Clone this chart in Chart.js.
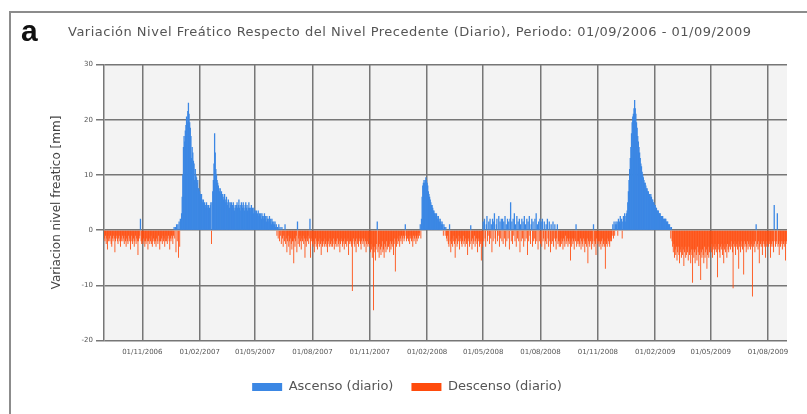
<!DOCTYPE html>
<html>
<head>
<meta charset="utf-8">
<script src="https://cdn.jsdelivr.net/npm/chart.js@4.4.1/dist/chart.umd.min.js"></script>
<style>
  html, body { margin: 0; padding: 0; background: #fff; }
  #wrap { position: relative; width: 807px; height: 414px; overflow: hidden; }
  #frame { position: absolute; left: 9px; top: 11px; width: 830px; height: 440px;
           border: 2px solid #8c8c8c; box-sizing: border-box; }
  #panel { position: absolute; left: 21px; top: 14px; font: bold 30px "Liberation Sans", Arial, sans-serif;
           color: #111; line-height: 34px; }
  #title { position: absolute; left: 68px; top: 24px; font: 13px "DejaVu Sans", sans-serif;
           letter-spacing: 0.5px; color: #555; white-space: nowrap; line-height: 16px; }
  canvas { position: absolute; left: 0; top: 0; }
</style>
</head>
<body>
<div id="wrap">
  <div id="frame"></div>
  <canvas id="chart" width="807" height="414"></canvas>
  <div id="panel">a</div>
  <div id="title">Variación Nivel Freático Respecto del Nivel Precedente (Diario), Periodo: 01/09/2006 - 01/09/2009</div>
</div>
<script>
// Daily change of the water table relative to the previous day [mm].
// One inner array per calendar month, starting September 2006.
const startYear = 2006, startMonth = 8; // September (0-based)

const var2006 = [
  /* sep */ [-1.5,-2,-1,-2.5,-1.5,-3.5,-1,-2,-1.5,-2,-1,-2.5,-3,-1.5,-2,-1,-1.5,-4,-2,-1.5,-1,-2,-2.5,-1.5,-1,-2,-3,-1.5,-2,-1],
  /* oct */ [-2,-1.5,-2.5,-1,-2,-3,-1.5,-2,-2.5,-1,-2,-1.5,-3.5,-2,-1,-2.5,-2,-1.5,-3,-2,-1,-2.5,-1.5,-2,-4.5,-2,-1.5,-1,2,-2,-2.5],
  /* nov */ [-2,-2.5,-1.5,-2,-3,-2,-2.5,-1.5,-2,-3.5,-2,-1.5,-2.5,-2,-1,-2.5,-3,-2,-1.5,-2,-2.5,-2,-3,-1.5,-2,-2.5,-1,-2,-3.5,-2],
  /* dic */ [-2,-1.5,-2.5,-1,-2,-1.5,-3,-2,-1,-2,-2.5,-1.5,-1,-2,-3.5,-1.5,-2,-1,-1.5,-2.5,-1,0.5,-1.5,0.5,-4,1,-2,1,-5,1.5,-3]
];
const var2007a = [
  /* ene */ [2,1.5,3,6,10,15,17,16,18,19,20.5,19.5,21.5,23,21,19.5,18.5,17,13,15,14,12.5,12,9,11,10,9.5,8.5,9,7.5,7.5],
  /* feb */ [7,6.5,6,6.5,5.5,5,5.5,4.5,5,4.5,4,5,4.5,4,4.5,3.5,4,4.5,5,-2.5,5,7,9,12,17.5,14,11,10],
  /* mar */ [9,8.5,8,7.5,7,7.5,6.5,7,6,6.5,5.5,6,6.5,5,5.5,6,5,4.5,5.5,5,4,5,4.5,5,4,4.5,5,4,3.5,4.5,4],
  /* abr */ [4.5,5,4,4.5,5.5,4,4.5,3.5,5,4.5,4,5,4,3.5,4.5,5,4,4.5,3.5,4,5,4,3.5,4,4.5,3.5,4,3,4,3.5],
  /* may */ [3.5,3,3.5,2.5,3,3.5,2.5,3,2.5,3,2,3,2.5,2,2.5,3,2,2.5,1.5,2.5,2,2,1.5,2.5,1.5,2,1,2,1.5,1,1.5],
  /* jun */ [1,1.5,0.5,1,-1,0.5,-1.5,1,-2,0.5,-1,-2.5,0.5,-1.5,-3,-1,-2,1,-2.5,-1.5,-4,-2,-1,-3,-2,-4.5,-1.5,-2.5,-3.5,-2]
];
const var2007b = [
  /* jul */ [-2,-6,-1.5,-3,-2,-1,-4,1.5,-2.5,-1.5,-3,-1,-2,-3.5,-1.5,-2,-1,-2.5,-1.5,-5,-2,-3,-1.5,-2,-1,-2.5,-1.5,2,-5,-2,-1.5],
  /* ago */ [-2.5,-3,-2,-4,-2.5,-1.5,-3,-2,-3.5,-2.5,-2,-3,-1.5,-2.5,-4.5,-2,-3,-2.5,-2,-3,-1.5,-2.5,-3,-2,-4,-2.5,-2,-3,-1.5,-2.5,-3],
  /* sep */ [-2,-3,-2.5,-1.5,-3.5,-2,-2.5,-3,-2,-1.5,-3,-2.5,-2,-4,-2.5,-1.5,-2,-3,-2.5,-2,-3.5,-1.5,-2.5,-2,-3,-2,-1.5,-4.5,-2.5,-2],
  /* oct */ [-2,-2.5,-3,-11,-2,-1.5,-2.5,-3,-2,-4,-1.5,-2.5,-2,-3,-1.5,-2,-2.5,-3.5,-2,-1.5,-2.5,-2,-3,-1.5,-2,-4,-2.5,-2,-3,-2.5,-1.5],
  /* nov */ [-3,-4,-2.5,-3.5,-5,-3,-14.5,-4,-3,-5.5,-3.5,-2.5,1.5,-4,-3,-5,-2.5,-3.5,-4.5,-3,-2,-4,-3.5,-5,-2.5,-3,-4,-2,-3.5,-3],
  /* dic */ [-3,-2.5,-4,-2,-3.5,-2.5,-3,-2,-4.5,-2.5,-1.5,-7.5,-2,-3,-1.5,-2.5,-2,-1,-3,-1.5,-2,-1,-2.5,-1.5,-1,-2,-1.5,1,-1,-2,-1.5]
];
const var2008a = [
  /* ene */ [-1.5,-2,-1,-2.5,-1.5,-1,-2,-1.5,-3,-1,-2,-1.5,-1,-2.5,-1.5,-2,-1,-1.5,-0.5,-1,1,-1.5,2,6,8,8.5,9,8.5,9,9.5,9],
  /* feb */ [8.5,8,7,6.5,6,5.5,5,4.5,4.5,4,3.5,3.5,3,3,2.5,3,2.5,2,2.5,2,1.5,2,1.5,1,1.5,1,-1,1,0.5],
  /* mar */ [-1,0.5,-1.5,-2,-1,-2.5,-3,1,-2,-4,-2.5,-1.5,-3,-2,-1,-2.5,-5,-2,-1.5,-3,-2.5,-2,-1,-3.5,-2,-1.5,-2.5,-3,-2,-1,-2.5],
  /* abr */ [-2,-3,-1.5,-2.5,-2,-4.5,-1.5,-2,-3,-2.5,0.8,-2,-3.5,-1.5,-2.5,-2,-1,-3,-2,-1.5,-2.5,-4,-2,-1.5,-3,-2,-2.5,-5.5,-2,-3],
  /* may */ [1.5,-2,2,-1.5,-3,1,2.5,-2,-1,1.5,-2.5,2,-1.5,1,-4,2,-2,1.5,3,-1.5,-2.5,1,2,-2,-1,2.5,-3,1.5,-1.5,2,-2],
  /* jun */ [2,-2.5,1.5,-1.5,2.5,-3,1,-2,2,-1.5,1.5,-3.5,2,5,-2,1.5,-2.5,2,-1,3,-2,1,-3,2.5,-1.5,1.5,-2,2,-4,1]
];
const var2008b = [
  /* jul */ [-2,2,-1.5,1.5,-3,2.5,-2,1,-1.5,2,-4.5,1.5,-2,2.5,-1,-2.5,1,2,-3,1.5,-2,-1.5,2,-2.5,3,-2,1,-3.5,1.5,-2,2],
  /* ago */ [-2.5,1.5,-3,2,-2,-1.5,1.5,-3.5,-2,1,-2.5,2,-1.5,-3,1.5,-2,-4,1,-2.5,-2,1.5,-3,-1.5,1,-2,-3.5,-1.5,1,-2.5,-2,-3],
  /* sep */ [-2,-3,-1.5,-2.5,-2,-3.5,-1.5,-2,-3,-1,-2.5,-2,-1.5,-3,-2,-2.5,-1.5,-5.5,-2,-3,-1.5,-2.5,-2,-3.5,-1.5,-2,1,-3,-2,-2.5],
  /* oct */ [-2,-3,-2.5,-1.5,-3.5,-2,-2.5,-3,-1.5,-2,-4,-2.5,-2,-3,-1.5,-6,-2,-2.5,-3,-2,-1.5,-3.5,-2.5,-2,1,-3,-2,-2.5,-4.5,-1.5,-2],
  /* nov */ [-2.5,-2,-3,-2,-2.5,-3.5,-2,-1.5,-3,-2.5,-2,-3,-7,-2,-2.5,-3,-1.5,-2,-2.5,-3,-2,-1.5,-2,-1,1,-1.5,1.5,-1,1,1.5],
  /* dic */ [1,1.5,-1,2,1,1.5,2.5,1,2,-1.5,1.5,2.5,2,3,1.5,2.5,3,3.5,5,7,9,11,13,15,17.5,19.5,20.5,21,22,23.5,22]
];
const var2009 = [
  /* ene */ [21,19.5,18.5,17,16,15,14,13,12,11.5,10.5,10,9.5,9,8.5,8.5,8,7.5,7.5,7,7,6.5,6.5,6,6.5,6,5.5,5.5,5,5,4.5],
  /* feb */ [4.5,4,4,3.5,3.5,3.5,3,3,3,2.5,2.5,2.5,2.5,2,2,2,2,2,1.5,1.5,1.5,1,1,1,0.5,-1.5,0.5,-2],
  /* mar */ [-3,-4,-2.5,-5,-3.5,-4.5,-3,-5.5,-4,-3,-4.5,-6,-3.5,-4,-5,-3,-4.5,-3.5,-6.5,-4,-3,-5,-4.5,-3.5,-4,-5.5,-3,-4.5,-4,-6,-3.5],
  /* abr */ [-4.5,-9.5,-3.5,-5,-4,-6,-3.5,-4.5,-5.5,-3,-4,-6.5,-4.5,-3.5,-9,-4,-5,-3.5,-4.5,-6,-3,-5,-4,-3.5,-7,-4.5,-3,-5,-4,-3.5],
  /* may */ [-3,-4,-2.5,-5,-3.5,-3,-4.5,-2.5,-3.5,-4,-3,-8.5,-3.5,-2.5,-4,-5,-3,-3.5,-2.5,-4.5,-3,-6,-3.5,-2.5,-4,-3,-5,-2.5,-3.5,-4,-3],
  /* jun */ [-2.5,-3.5,-2,-3,-4,-10.5,-2.5,-3,-2,-4.5,-3,-2.5,-3.5,-2,-7,-3,-2.5,-4,-2,-3,-3.5,-2.5,-8,-2,-3,-2.5,-4,-3,-2,-3.5],
  /* jul */ [-2.5,-3,-2,-3.5,-2.5,-3,-12,-2,-3,-2.5,-4,-2,1,-3,-2.5,-3.5,-2,-6,-3,-2.5,-2,-3,-4.5,-2.5,-2,-3,-2.5,-5,-2,-3,-2.5],
  /* ago */ [-2,-3,-2.5,-2,-5,-3,-2.5,-2,-3,-4,4.5,-2,-3,-2.5,-2,3,-3,-2.5,-4.5,-2,-3,-2.5,-2,-3.5,-2,-2.5,-3,-2,-5.5,-2.5,-2]
];

const tickLabels = ['01/11/2006','01/02/2007','01/05/2007','01/08/2007','01/11/2007','01/02/2008',
                    '01/05/2008','01/08/2008','01/11/2008','01/02/2009','01/05/2009','01/08/2009'];
const seriesNames = ['Ascenso (diario)', 'Descenso (diario)'];

const DAY = 86400000;
const t0 = Date.UTC(startYear, startMonth, 1);
const totalDays = Math.round((Date.UTC(2009, 8, 1) - t0) / DAY);

// Day index of every value, placed month by month
const ascenso = [], descenso = [];
[var2006, var2007a, var2007b, var2008a, var2008b, var2009].flat(1).forEach((month, m) => {
  const first = Math.round((Date.UTC(startYear, startMonth + m, 1) - t0) / DAY);
  const len = Math.round((Date.UTC(startYear, startMonth + m + 1, 1) - t0) / DAY) - first;
  month.slice(0, len).forEach((v, d) => {
    if (v > 0) ascenso.push({x: first + d, y: v});
    else if (v < 0) descenso.push({x: first + d, y: v});
  });
});

const dayOf = s => {
  const [d, m, y] = s.split('/').map(Number);
  return Math.round((Date.UTC(y, m - 1, d) - t0) / DAY);
};
const tickDays = tickLabels.map(dayOf);
const labelAt = Object.fromEntries(tickDays.map((d, i) => [d, tickLabels[i]]));

const plotBg = {
  id: 'plotBg',
  beforeDraw(chart) {
    const {ctx, chartArea: a} = chart;
    ctx.save();
    ctx.fillStyle = '#f3f3f3';
    ctx.fillRect(a.left, a.top, a.right - a.left, a.bottom - a.top);
    ctx.restore();
  }
};

const legendShift = {
  id: 'legendShift',
  afterLayout(chart) {
    const lg = chart.legend;
    if (lg) { lg.left -= 9; lg.right -= 9; }
  }
};

const gridColor = '#767676';
const axisFont = {family: 'DejaVu Sans', size: 7};

new Chart(document.getElementById('chart'), {
  type: 'bar',
  data: {
    datasets: [
      {label: seriesNames[0], data: ascenso, backgroundColor: '#3b87e4', borderWidth: 0,
       grouped: false, inflateAmount: 0.33},
      {label: seriesNames[1], data: descenso, backgroundColor: '#ff4b0c', borderWidth: 0,
       grouped: false, inflateAmount: 0.12}
    ]
  },
  options: {
    responsive: false,
    animation: false,
    events: [],
    categoryPercentage: 1,
    barPercentage: 1,
    layout: {padding: {left: 45, right: 20, top: 64.5, bottom: 10.5}},
    scales: {
      x: {
        type: 'linear',
        offset: false,
        min: -0.5,
        max: totalDays - 0.5,
        afterBuildTicks: s => { s.ticks = tickDays.map(v => ({value: v})); },
        afterFit: s => { s.height = 22; },
        ticks: {
          autoSkip: false, maxRotation: 0, padding: 7,
          color: '#555', font: axisFont,
          callback: v => labelAt[v] || ''
        },
        grid: {color: gridColor, lineWidth: 1.5, drawTicks: false, offset: false},
        border: {display: false}
      },
      y: {
        min: -20, max: 30,
        afterFit: s => { s.width = 59; },
        ticks: {stepSize: 10, padding: 3, color: '#555', font: axisFont},
        grid: {color: gridColor, lineWidth: 1.5, tickLength: 8},
        border: {color: gridColor, width: 1.5},
        title: {
          display: true, text: 'Variacion nivel freatico [mm]',
          color: '#444', font: {family: 'DejaVu Sans', size: 12},
          padding: {top: 4.8, bottom: 0}
        }
      }
    },
    plugins: {
      legend: {
        position: 'bottom',
        labels: {
          boxWidth: 30, boxHeight: 8, padding: 18,
          color: '#555', font: {family: 'DejaVu Sans', size: 13}
        }
      },
      tooltip: {enabled: false}
    }
  },
  plugins: [plotBg, legendShift]
});
</script>
</body>
</html>
